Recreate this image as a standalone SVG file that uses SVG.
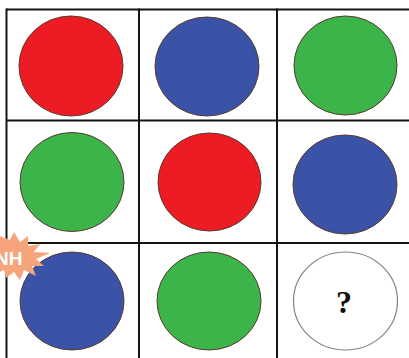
<svg xmlns="http://www.w3.org/2000/svg" width="409" height="358" viewBox="0 0 409 358">
<style>
.grid{stroke:#141414;stroke-width:2;fill:none}
.c{stroke:#5a3a30;stroke-width:1}
.red{fill:#ed1c24}
.blue{fill:#3a53a6}
.green{fill:#3bb44a}
.empty{fill:#ffffff;stroke:#8a8080;stroke-width:1.2}
.q{font-family:"Liberation Serif",serif;font-weight:bold;font-size:32px;fill:#111;text-anchor:middle}
.badge{fill:#f6a47c}
.bt{font-family:"Liberation Sans",Arial,sans-serif;font-weight:bold;font-size:19px;fill:#ffffff}
</style>
<rect width="409" height="358" fill="#ffffff"/>
<g id="grid" class="grid">
<line x1="6" y1="9.5" x2="409" y2="9.5"/>
<line x1="6" y1="120.5" x2="409" y2="120.5"/>
<line x1="6" y1="243" x2="409" y2="243"/>
<line x1="6.5" y1="8.5" x2="6.5" y2="358"/>
<line x1="139" y1="8.5" x2="139" y2="358"/>
<line x1="277" y1="8.5" x2="277" y2="358"/>
</g>
<g id="r1c1"><ellipse class="c red" cx="71" cy="66" rx="52" ry="50"/></g>
<g id="r1c2"><ellipse class="c blue" cx="207" cy="66.5" rx="52" ry="49.5"/></g>
<g id="r1c3"><ellipse class="c green" cx="345.5" cy="65.5" rx="51.5" ry="49.5"/></g>
<g id="r2c1"><ellipse class="c green" cx="72" cy="182" rx="52" ry="49.5"/></g>
<g id="r2c2"><ellipse class="c red" cx="209.5" cy="182" rx="51.5" ry="49"/></g>
<g id="r2c3"><ellipse class="c blue" cx="345" cy="184.5" rx="52" ry="49.5"/></g>
<g id="r3c1"><ellipse class="c blue" cx="72" cy="301" rx="52" ry="49"/></g>
<g id="r3c2"><ellipse class="c green" cx="209" cy="301" rx="52" ry="49"/></g>
<g id="r3c3"><ellipse class="empty" cx="345.5" cy="301" rx="52" ry="49"/>
<text class="q" x="344" y="313">?</text></g>
<g id="badge">
<polygon class="badge" points="0,236 10,240 14,232 20,242 28,236 28,246 40,244 34,252 50,253 36,259 44,266 32,266 36,276 24,270 20,280 14,272 6,278 4,270 0,272"/>
<text class="bt" x="-5" y="265">NH</text>
</g>
</svg>
